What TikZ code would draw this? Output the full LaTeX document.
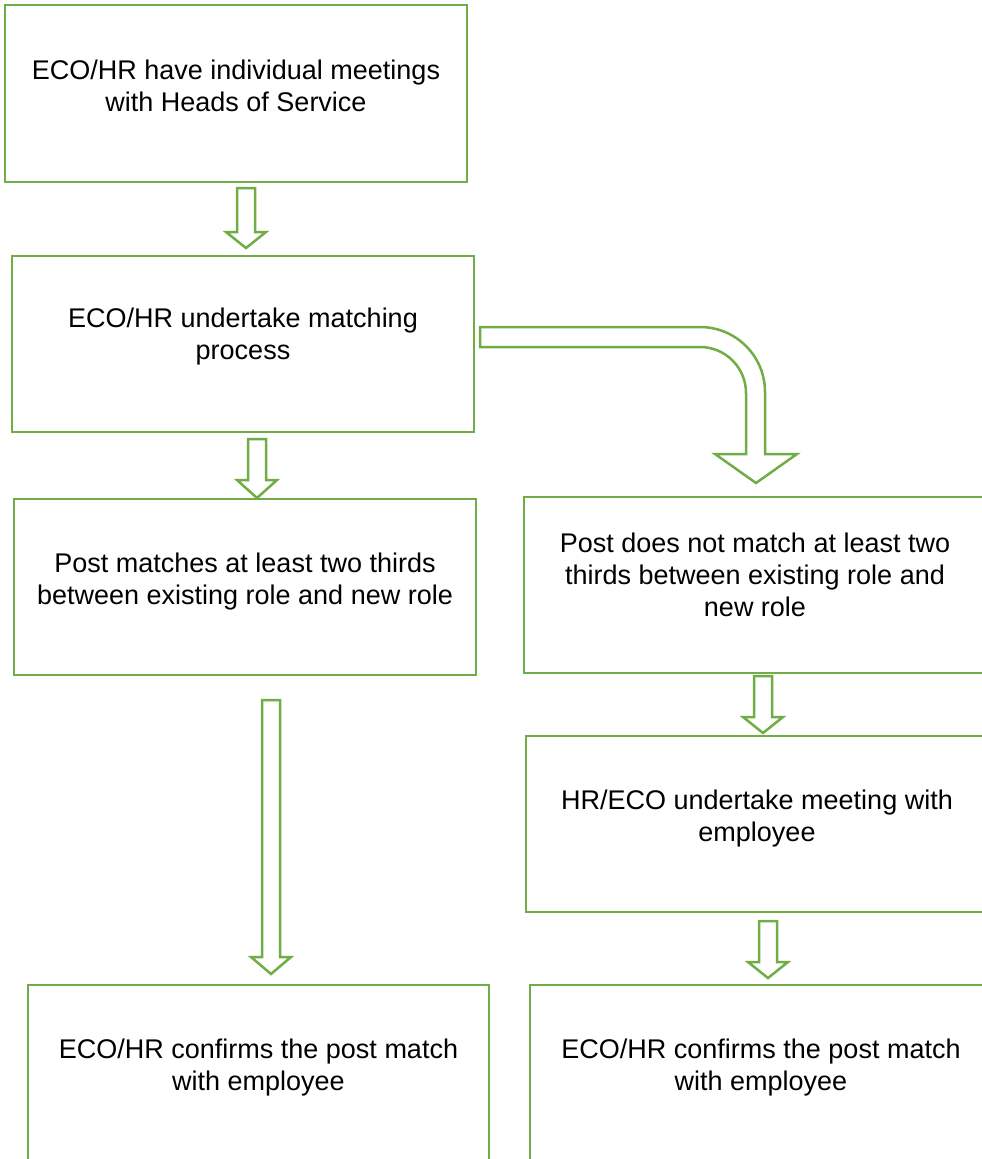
\documentclass[tikz,border=0pt]{standalone}
\usepackage{fontspec}
\setmainfont{Liberation Sans}
\usetikzlibrary{calc}
\definecolor{officegreen}{RGB}{112,173,71}
\tikzstyle{box}=[rectangle,draw=officegreen,line width=2.5pt,minimum width=462pt,minimum height=176pt,inner sep=0pt,outer sep=0pt,anchor=north west]
\tikzstyle{boxtext}=[anchor=north,align=center,inner sep=0pt,font=\fontsize{27}{32}\selectfont]
\tikzstyle{blockarrow}=[draw=officegreen,line width=2.5pt,fill=white,line join=miter]

% hollow down arrow: centre x, top y, head y, tip y
\newcommand{\downblock}[4]{%
  \draw[blockarrow] (#1-9,#2) -- (#1+9,#2) -- (#1+9,#3) -- (#1+20,#3) -- (#1,#4) -- (#1-20,#3) -- (#1-9,#3) -- cycle;}

\begin{document}
\begin{tikzpicture}[x=1pt,y=-1pt]

   \useasboundingbox (0,0) rectangle (982,1159);
   \clip (0,0) rectangle (982,1159);

   % boxes
   \node[box,minimum height=177pt] (meet) at (5,5) {};
   \node[boxtext] (meettxt) at ($(meet.north)+(0,55)$) {ECO/HR have individual meetings\\with Heads of Service};

   \node[box] (match) at (12,256) {};
   \node[boxtext] (matchtxt) at ($(match.north)+(0,52)$) {ECO/HR undertake matching\\process};

   \node[box] (yes) at (14,499) {};
   \node[boxtext] (yestxt) at ($(yes.north)+(0,54)$) {Post matches at least two thirds\\between existing role and new role};

   \node[box] (no) at (524,497) {};
   \node[boxtext] (notxt) at ($(no.north)+(0,36)$) {Post does not match at least two\\thirds between existing role and\\new role};

   \node[box] (talk) at (526,736) {};
   \node[boxtext] (talktxt) at ($(talk.north)+(0,54)$) {HR/ECO undertake meeting with\\employee};

   \node[box,minimum width=461pt] (confa) at (28,985) {};
   \node[boxtext] (confatxt) at ($(confa.north)+(0,54)$) {ECO/HR confirms the post match\\with employee};

   \node[box] (confb) at (530,985) {};
   \node[boxtext] (confbtxt) at ($(confb.north)+(0,54)$) {ECO/HR confirms the post match\\with employee};

   % straight arrows
   \downblock{246}{188}{232}{248}
   \downblock{257}{439}{480}{498}
   \downblock{271}{700}{957}{974}
   \downblock{763}{676}{717}{733}
   \downblock{768}{921}{962}{978}

   % bent arrow to the right branch
   \draw[blockarrow] (480,327) -- (700,327) .. controls (735.9,327) and (765,356.1) .. (765,392)
        -- (765,454) -- (797,454) -- (756,483) -- (715,454) -- (746,454) -- (746,393)
        .. controls (746,367.6) and (725.4,347) .. (700,347) -- (480,347) -- cycle;

\end{tikzpicture}
\end{document}
